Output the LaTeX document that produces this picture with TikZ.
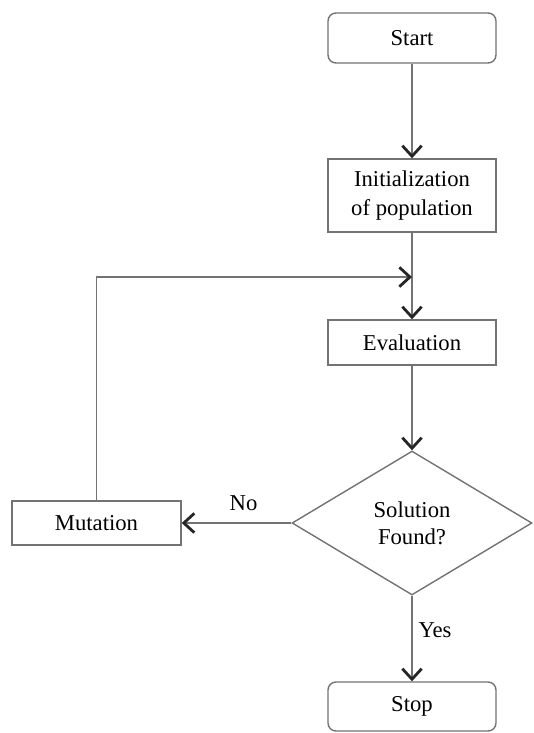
\documentclass[tikz,border=0pt]{standalone}
\usepackage{fontspec}
\setmainfont{Liberation Serif}
\usetikzlibrary{arrows.meta,shapes.geometric}

\begin{document}
\begin{tikzpicture}[
    font=\fontsize{12.9}{16}\selectfont,
    box/.style={draw=black!55,line width=0.8pt,minimum width=3.36cm,align=center,inner sep=0pt},
    term/.style={box,rounded corners=0.16cm},
    arr/.style={draw=black!55,line width=0.8pt,-{Straight Barb[length=6pt,width=11pt,line width=1.6pt,black!85]}}
  ]
  \useasboundingbox (0,0) rectangle (10.68,-14.66);
  \node[term,minimum height=1.0cm]  (start) at (8.24,-0.76)  {Start};
  \node[box,minimum height=1.46cm]  (init)  at (8.24,-3.91)  {Initialization\\of population};
  \node[box,minimum height=0.9cm]   (eval)  at (8.24,-6.85)  {Evaluation};
  \node[draw=black!55,line width=0.8pt,diamond,inner sep=0pt,minimum width=4.8cm,minimum height=2.88cm,align=center,
        font=\fontsize{12.9}{15.5}\selectfont] (found) at (8.24,-10.46) {Solution\\Found?};
  \node[box,minimum height=0.88cm,minimum width=3.38cm] (mut) at (1.93,-10.46) {Mutation};
  \node[term,minimum height=0.98cm] (stop)  at (8.24,-14.13) {Stop};
  \coordinate (join) at (8.24,-5.54);

  \draw[arr] (start) -- (init);
  \draw[arr] (init) -- (eval);
  \draw[arr] (eval) -- (found);
  \draw[arr] (found.west) -- node[above=3pt,xshift=4pt] {No} (mut.east);
  \draw[arr] (mut.north) |- (join);
  \draw[arr] (found.south) -- node[right,pos=0.4] {Yes} (stop.north);
\end{tikzpicture}
\end{document}
